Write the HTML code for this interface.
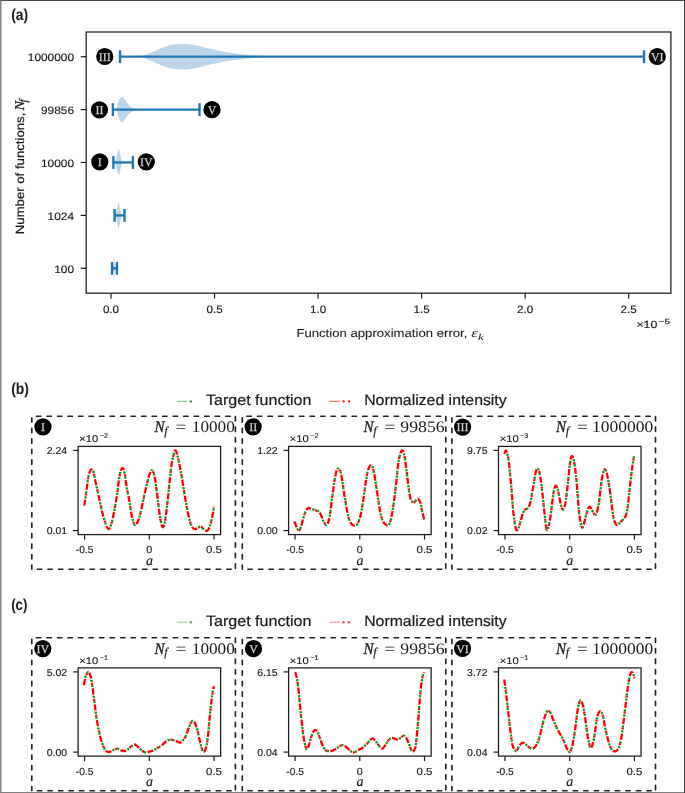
<!DOCTYPE html>
<html><head><meta charset="utf-8"><style>
html,body{margin:0;padding:0;background:#fff;}
svg{display:block;font-family:"Liberation Sans", sans-serif;will-change:transform;text-rendering:geometricPrecision;}
</style></head><body>
<svg width="685" height="793" viewBox="0 0 685 793">
<rect width="685" height="793" fill="#fff"/>
<rect x="0" y="0" width="685" height="1" fill="#4a4a4a"/>
<rect x="0" y="0" width="1" height="793" fill="#808080"/>
<rect x="1" y="1" width="1" height="791" fill="#c4c4c4"/>
<rect x="684" y="0" width="1" height="793" fill="#3c3c3c"/>
<rect x="0" y="792" width="684" height="1" fill="#808080"/>
<text x="11.20" y="19.80" font-size="16" textLength="17.00" lengthAdjust="spacingAndGlyphs" font-weight="bold" fill="#1a1a1a">(a)</text>
<text x="11.20" y="394.00" font-size="16" textLength="17.80" lengthAdjust="spacingAndGlyphs" font-weight="bold" fill="#1a1a1a">(b)</text>
<text x="11.20" y="610.20" font-size="16" textLength="16.20" lengthAdjust="spacingAndGlyphs" font-weight="bold" fill="#1a1a1a">(c)</text>
<polygon points="141.20,56.40 141.49,56.29 141.82,56.17 142.21,56.03 142.64,55.87 143.11,55.70 143.61,55.52 144.14,55.33 144.69,55.13 145.26,54.92 145.85,54.70 146.45,54.48 147.06,54.25 147.66,54.02 148.26,53.79 148.86,53.56 149.44,53.33 150.00,53.10 150.47,52.90 150.95,52.70 151.43,52.49 151.92,52.28 152.42,52.06 152.91,51.84 153.41,51.61 153.91,51.38 154.42,51.15 154.93,50.92 155.43,50.69 155.94,50.46 156.45,50.22 156.96,50.00 157.47,49.77 157.98,49.55 158.49,49.33 158.99,49.11 159.50,48.90 160.00,48.70 160.50,48.50 161.00,48.30 161.50,48.09 162.00,47.89 162.50,47.69 163.00,47.48 163.50,47.28 164.00,47.08 164.50,46.89 165.00,46.69 165.50,46.51 166.00,46.32 166.50,46.14 167.00,45.97 167.50,45.81 168.00,45.65 168.50,45.50 169.00,45.36 169.50,45.22 170.00,45.10 170.50,44.99 171.00,44.88 171.50,44.79 172.00,44.70 172.50,44.62 173.00,44.54 173.50,44.47 174.00,44.41 174.50,44.36 175.00,44.31 175.50,44.26 176.00,44.22 176.50,44.18 177.00,44.15 177.50,44.12 178.00,44.09 178.50,44.07 179.00,44.04 179.50,44.02 180.00,44.00 180.50,43.98 181.00,43.97 181.50,43.95 182.00,43.95 182.50,43.94 183.00,43.94 183.50,43.94 184.00,43.95 184.50,43.96 185.00,43.97 185.50,43.98 186.00,44.00 186.50,44.03 187.00,44.06 187.50,44.09 188.00,44.12 188.50,44.16 189.00,44.20 189.50,44.25 190.00,44.30 190.51,44.36 191.02,44.42 191.55,44.49 192.08,44.57 192.62,44.65 193.16,44.74 193.70,44.83 194.24,44.93 194.78,45.02 195.31,45.12 195.84,45.23 196.36,45.33 196.87,45.43 197.37,45.53 197.85,45.64 198.32,45.74 198.77,45.83 199.20,45.93 199.61,46.01 200.00,46.10 200.68,46.26 201.24,46.41 201.71,46.55 202.12,46.68 202.50,46.82 202.88,46.96 203.29,47.10 203.76,47.25 204.32,47.42 205.00,47.60 205.39,47.70 205.80,47.80 206.23,47.90 206.68,48.01 207.15,48.12 207.63,48.24 208.13,48.35 208.64,48.47 209.16,48.59 209.69,48.71 210.22,48.83 210.76,48.96 211.30,49.08 211.84,49.20 212.38,49.32 212.92,49.44 213.45,49.56 213.98,49.67 214.49,49.79 215.00,49.90 215.50,50.01 216.00,50.12 216.50,50.23 217.00,50.34 217.50,50.46 218.00,50.57 218.50,50.68 219.00,50.79 219.50,50.90 220.00,51.01 220.50,51.11 221.00,51.22 221.50,51.32 222.00,51.43 222.50,51.53 223.00,51.63 223.50,51.72 224.00,51.82 224.50,51.91 225.00,52.00 225.50,52.09 226.00,52.17 226.50,52.25 227.00,52.33 227.50,52.40 228.00,52.48 228.50,52.55 229.00,52.62 229.50,52.69 230.00,52.76 230.50,52.82 231.00,52.89 231.50,52.95 232.00,53.02 232.50,53.08 233.00,53.14 233.50,53.21 234.00,53.27 234.50,53.34 235.00,53.40 235.50,53.46 236.00,53.53 236.50,53.59 237.00,53.66 237.50,53.72 238.00,53.78 238.50,53.85 239.00,53.91 239.50,53.97 240.00,54.03 240.50,54.09 241.00,54.15 241.50,54.21 242.00,54.27 242.50,54.33 243.00,54.38 243.50,54.44 244.00,54.49 244.50,54.55 245.00,54.60 245.50,54.65 246.00,54.70 246.50,54.75 247.00,54.80 247.50,54.85 248.00,54.90 248.50,54.95 249.00,54.99 249.50,55.04 250.00,55.08 250.50,55.13 251.00,55.17 251.50,55.21 252.00,55.25 252.50,55.30 253.00,55.34 253.50,55.38 254.00,55.42 254.50,55.46 255.00,55.50 255.50,55.54 256.01,55.58 256.53,55.62 257.05,55.66 257.57,55.70 258.09,55.73 258.62,55.77 259.14,55.81 259.67,55.85 260.19,55.88 260.70,55.92 261.22,55.95 261.72,55.99 262.22,56.02 262.71,56.05 263.19,56.08 263.66,56.11 264.12,56.14 264.57,56.17 265.00,56.20 265.54,56.24 265.97,56.28 266.32,56.31 266.61,56.34 266.86,56.38 267.11,56.41 267.38,56.44 267.69,56.47 268.07,56.49 268.56,56.52 269.17,56.54 269.92,56.56 270.86,56.58 272.00,56.60 272.32,56.60 272.67,56.61 273.03,56.61 273.42,56.62 273.82,56.62 274.25,56.62 274.69,56.63 275.14,56.63 275.61,56.63 276.10,56.64 276.60,56.64 277.12,56.64 277.64,56.65 278.18,56.65 278.73,56.65 279.29,56.65 279.85,56.66 280.43,56.66 281.01,56.66 281.60,56.66 282.19,56.66 282.79,56.67 283.39,56.67 284.00,56.67 284.61,56.67 285.22,56.67 285.83,56.67 286.44,56.68 287.05,56.68 287.65,56.68 288.26,56.68 288.86,56.68 289.45,56.68 290.04,56.68 290.63,56.68 291.21,56.68 291.77,56.68 292.34,56.69 292.89,56.69 293.43,56.69 293.96,56.69 294.48,56.69 294.98,56.69 295.47,56.69 295.95,56.69 296.41,56.69 296.86,56.69 297.29,56.69 297.70,56.69 298.09,56.70 298.46,56.70 298.81,56.70 299.14,56.70 299.45,56.70 299.74,56.70 300.00,56.70 300.00,56.70 299.74,56.70 299.45,56.70 299.14,56.70 298.81,56.70 298.46,56.70 298.09,56.70 297.70,56.71 297.29,56.71 296.86,56.71 296.41,56.71 295.95,56.71 295.47,56.71 294.98,56.71 294.48,56.71 293.96,56.71 293.43,56.71 292.89,56.71 292.34,56.71 291.77,56.72 291.21,56.72 290.63,56.72 290.04,56.72 289.45,56.72 288.86,56.72 288.26,56.72 287.65,56.72 287.05,56.72 286.44,56.73 285.83,56.73 285.22,56.73 284.61,56.73 284.00,56.73 283.39,56.73 282.79,56.73 282.19,56.74 281.60,56.74 281.01,56.74 280.43,56.74 279.85,56.74 279.29,56.75 278.73,56.75 278.18,56.75 277.64,56.75 277.12,56.76 276.60,56.76 276.10,56.76 275.61,56.77 275.14,56.77 274.69,56.77 274.25,56.78 273.82,56.78 273.42,56.78 273.03,56.79 272.67,56.79 272.32,56.80 272.00,56.80 270.86,56.82 269.92,56.84 269.17,56.86 268.56,56.88 268.07,56.91 267.69,56.93 267.38,56.96 267.11,56.99 266.86,57.02 266.61,57.06 266.32,57.09 265.97,57.12 265.54,57.16 265.00,57.20 264.57,57.23 264.12,57.26 263.66,57.29 263.19,57.32 262.71,57.35 262.22,57.38 261.72,57.41 261.22,57.45 260.70,57.48 260.19,57.52 259.67,57.55 259.14,57.59 258.62,57.63 258.09,57.67 257.57,57.70 257.05,57.74 256.53,57.78 256.01,57.82 255.50,57.86 255.00,57.90 254.50,57.94 254.00,57.98 253.50,58.02 253.00,58.06 252.50,58.10 252.00,58.15 251.50,58.19 251.00,58.23 250.50,58.27 250.00,58.32 249.50,58.36 249.00,58.41 248.50,58.45 248.00,58.50 247.50,58.55 247.00,58.60 246.50,58.65 246.00,58.70 245.50,58.75 245.00,58.80 244.50,58.85 244.00,58.91 243.50,58.96 243.00,59.02 242.50,59.07 242.00,59.13 241.50,59.19 241.00,59.25 240.50,59.31 240.00,59.37 239.50,59.43 239.00,59.49 238.50,59.55 238.00,59.62 237.50,59.68 237.00,59.74 236.50,59.81 236.00,59.87 235.50,59.94 235.00,60.00 234.50,60.06 234.00,60.13 233.50,60.19 233.00,60.26 232.50,60.32 232.00,60.38 231.50,60.45 231.00,60.51 230.50,60.58 230.00,60.64 229.50,60.71 229.00,60.78 228.50,60.85 228.00,60.92 227.50,61.00 227.00,61.07 226.50,61.15 226.00,61.23 225.50,61.31 225.00,61.40 224.50,61.49 224.00,61.58 223.50,61.68 223.00,61.77 222.50,61.87 222.00,61.97 221.50,62.08 221.00,62.18 220.50,62.29 220.00,62.39 219.50,62.50 219.00,62.61 218.50,62.72 218.00,62.83 217.50,62.94 217.00,63.06 216.50,63.17 216.00,63.28 215.50,63.39 215.00,63.50 214.49,63.61 213.98,63.73 213.45,63.84 212.92,63.96 212.38,64.08 211.84,64.20 211.30,64.32 210.76,64.44 210.22,64.57 209.69,64.69 209.16,64.81 208.64,64.93 208.13,65.05 207.63,65.16 207.15,65.28 206.68,65.39 206.23,65.50 205.80,65.60 205.39,65.70 205.00,65.80 204.32,65.98 203.76,66.15 203.29,66.30 202.88,66.44 202.50,66.58 202.12,66.72 201.71,66.85 201.24,66.99 200.68,67.14 200.00,67.30 199.61,67.39 199.20,67.47 198.77,67.57 198.32,67.66 197.85,67.76 197.37,67.87 196.87,67.97 196.36,68.07 195.84,68.17 195.31,68.28 194.78,68.38 194.24,68.47 193.70,68.57 193.16,68.66 192.62,68.75 192.08,68.83 191.55,68.91 191.02,68.98 190.51,69.04 190.00,69.10 189.50,69.15 189.00,69.20 188.50,69.24 188.00,69.28 187.50,69.31 187.00,69.34 186.50,69.37 186.00,69.40 185.50,69.42 185.00,69.43 184.50,69.44 184.00,69.45 183.50,69.46 183.00,69.46 182.50,69.46 182.00,69.45 181.50,69.45 181.00,69.43 180.50,69.42 180.00,69.40 179.50,69.38 179.00,69.36 178.50,69.33 178.00,69.31 177.50,69.28 177.00,69.25 176.50,69.22 176.00,69.18 175.50,69.14 175.00,69.09 174.50,69.04 174.00,68.99 173.50,68.93 173.00,68.86 172.50,68.78 172.00,68.70 171.50,68.61 171.00,68.52 170.50,68.41 170.00,68.30 169.50,68.18 169.00,68.04 168.50,67.90 168.00,67.75 167.50,67.59 167.00,67.43 166.50,67.26 166.00,67.08 165.50,66.89 165.00,66.71 164.50,66.51 164.00,66.32 163.50,66.12 163.00,65.92 162.50,65.71 162.00,65.51 161.50,65.31 161.00,65.10 160.50,64.90 160.00,64.70 159.50,64.50 158.99,64.29 158.49,64.07 157.98,63.85 157.47,63.63 156.96,63.40 156.45,63.18 155.94,62.94 155.43,62.71 154.93,62.48 154.42,62.25 153.91,62.02 153.41,61.79 152.91,61.56 152.42,61.34 151.92,61.12 151.43,60.91 150.95,60.70 150.47,60.50 150.00,60.30 149.44,60.07 148.86,59.84 148.26,59.61 147.66,59.38 147.06,59.15 146.45,58.92 145.85,58.70 145.26,58.48 144.69,58.27 144.14,58.07 143.61,57.88 143.11,57.70 142.64,57.53 142.21,57.37 141.82,57.23 141.49,57.11 141.20,57.00" fill="#bcd5e9"/>
<polygon points="116.90,106.60 117.28,105.30 117.80,103.60 118.36,101.97 119.00,100.40 119.48,99.43 119.99,98.53 120.50,97.80 121.00,97.26 121.50,96.89 122.00,96.75 122.48,96.87 122.96,97.23 123.50,97.80 123.96,98.42 124.47,99.19 124.99,100.02 125.50,100.80 126.00,101.53 126.50,102.26 127.00,102.95 127.50,103.60 128.00,104.19 128.50,104.73 129.00,105.23 129.50,105.70 130.00,106.13 130.50,106.51 131.00,106.87 131.50,107.20 132.00,107.51 132.50,107.79 133.00,108.06 133.50,108.30 134.00,108.53 134.50,108.74 135.00,108.94 135.50,109.10 136.05,109.24 136.62,109.35 137.14,109.44 137.50,109.50 137.50,109.70 137.14,109.76 136.62,109.85 136.05,109.96 135.50,110.10 135.00,110.26 134.50,110.46 134.00,110.67 133.50,110.90 133.00,111.14 132.50,111.41 132.00,111.69 131.50,112.00 131.00,112.33 130.50,112.69 130.00,113.07 129.50,113.50 129.00,113.97 128.50,114.47 128.00,115.01 127.50,115.60 127.00,116.25 126.50,116.94 126.00,117.67 125.50,118.40 124.99,119.18 124.47,120.01 123.96,120.78 123.50,121.40 122.96,121.97 122.48,122.33 122.00,122.45 121.50,122.31 121.00,121.94 120.50,121.40 119.99,120.67 119.48,119.77 119.00,118.80 118.36,117.22 117.80,115.60 117.28,113.90 116.90,112.60" fill="#bcd5e9"/>
<polygon points="115.00,162.00 115.39,160.91 115.94,159.31 116.50,157.50 117.03,155.29 117.56,152.86 118.00,151.00 118.39,149.83 118.70,149.65 119.06,149.83 119.50,151.00 120.11,154.05 120.80,157.50 121.34,159.31 121.90,160.91 122.30,162.00 122.30,163.00 121.90,164.09 121.34,165.69 120.80,167.50 120.11,170.95 119.50,174.00 119.06,175.17 118.70,175.35 118.39,175.17 118.00,174.00 117.56,172.14 117.03,169.71 116.50,167.50 115.94,165.69 115.39,164.09 115.00,163.00" fill="#bcd5e9"/>
<polygon points="115.60,214.90 116.24,212.21 117.00,208.90 117.56,206.11 118.00,203.90 118.22,202.86 118.40,202.60 118.65,202.86 119.00,203.90 119.56,206.11 120.20,208.90 120.88,212.21 121.40,214.90 121.40,215.90 120.88,218.59 120.20,221.90 119.56,224.69 119.00,226.90 118.65,227.94 118.40,228.20 118.22,227.94 118.00,226.90 117.56,224.69 117.00,221.90 116.24,218.59 115.60,215.90" fill="#bcd5e9"/>
<polygon points="112.80,268.00 113.12,265.57 113.50,262.30 113.76,258.18 114.00,255.60 114.24,258.18 114.50,262.30 114.88,265.57 115.20,268.00 115.20,268.60 114.88,271.03 114.50,274.30 114.24,278.43 114.00,281.00 113.76,278.43 113.50,274.30 113.12,271.03 112.80,268.60" fill="#bcd5e9"/>
<line x1="120.00" y1="56.70" x2="644.00" y2="56.70" stroke="#1f77b4" stroke-width="2.3"/>
<line x1="120.00" y1="50.30" x2="120.00" y2="63.10" stroke="#1f77b4" stroke-width="2.4"/>
<line x1="644.00" y1="50.30" x2="644.00" y2="63.10" stroke="#1f77b4" stroke-width="2.4"/>
<line x1="112.90" y1="109.60" x2="199.50" y2="109.60" stroke="#1f77b4" stroke-width="2.3"/>
<line x1="112.90" y1="103.20" x2="112.90" y2="116.00" stroke="#1f77b4" stroke-width="2.4"/>
<line x1="199.50" y1="103.20" x2="199.50" y2="116.00" stroke="#1f77b4" stroke-width="2.4"/>
<line x1="113.40" y1="162.50" x2="132.90" y2="162.50" stroke="#1f77b4" stroke-width="2.3"/>
<line x1="113.40" y1="156.10" x2="113.40" y2="168.90" stroke="#1f77b4" stroke-width="2.4"/>
<line x1="132.90" y1="156.10" x2="132.90" y2="168.90" stroke="#1f77b4" stroke-width="2.4"/>
<line x1="114.60" y1="215.40" x2="124.50" y2="215.40" stroke="#1f77b4" stroke-width="2.3"/>
<line x1="114.60" y1="209.00" x2="114.60" y2="221.80" stroke="#1f77b4" stroke-width="2.4"/>
<line x1="124.50" y1="209.00" x2="124.50" y2="221.80" stroke="#1f77b4" stroke-width="2.4"/>
<line x1="112.00" y1="268.30" x2="116.90" y2="268.30" stroke="#1f77b4" stroke-width="2.3"/>
<line x1="112.00" y1="261.90" x2="112.00" y2="274.70" stroke="#1f77b4" stroke-width="2.4"/>
<line x1="116.90" y1="261.90" x2="116.90" y2="274.70" stroke="#1f77b4" stroke-width="2.4"/>
<rect x="86.20" y="32.00" width="584.70" height="261.20" fill="none" stroke="#1a1a1a" stroke-width="1.25"/>
<line x1="80.70" y1="56.70" x2="86.20" y2="56.70" stroke="#1a1a1a" stroke-width="1.2"/>
<line x1="80.70" y1="109.60" x2="86.20" y2="109.60" stroke="#1a1a1a" stroke-width="1.2"/>
<line x1="80.70" y1="162.50" x2="86.20" y2="162.50" stroke="#1a1a1a" stroke-width="1.2"/>
<line x1="80.70" y1="215.40" x2="86.20" y2="215.40" stroke="#1a1a1a" stroke-width="1.2"/>
<line x1="80.70" y1="268.30" x2="86.20" y2="268.30" stroke="#1a1a1a" stroke-width="1.2"/>
<line x1="111.00" y1="293.20" x2="111.00" y2="298.70" stroke="#1a1a1a" stroke-width="1.2"/>
<line x1="214.54" y1="293.20" x2="214.54" y2="298.70" stroke="#1a1a1a" stroke-width="1.2"/>
<line x1="318.08" y1="293.20" x2="318.08" y2="298.70" stroke="#1a1a1a" stroke-width="1.2"/>
<line x1="421.62" y1="293.20" x2="421.62" y2="298.70" stroke="#1a1a1a" stroke-width="1.2"/>
<line x1="525.16" y1="293.20" x2="525.16" y2="298.70" stroke="#1a1a1a" stroke-width="1.2"/>
<line x1="628.70" y1="293.20" x2="628.70" y2="298.70" stroke="#1a1a1a" stroke-width="1.2"/>
<text x="74.00" y="61.10" font-size="10.7" text-anchor="end" textLength="46.20" lengthAdjust="spacingAndGlyphs" fill="#1a1a1a" stroke="#1a1a1a" stroke-width="0.15">1000000</text>
<text x="74.00" y="114.00" font-size="10.7" text-anchor="end" textLength="33.00" lengthAdjust="spacingAndGlyphs" fill="#1a1a1a" stroke="#1a1a1a" stroke-width="0.15">99856</text>
<text x="74.00" y="166.90" font-size="10.7" text-anchor="end" textLength="33.00" lengthAdjust="spacingAndGlyphs" fill="#1a1a1a" stroke="#1a1a1a" stroke-width="0.15">10000</text>
<text x="74.00" y="219.80" font-size="10.7" text-anchor="end" textLength="26.40" lengthAdjust="spacingAndGlyphs" fill="#1a1a1a" stroke="#1a1a1a" stroke-width="0.15">1024</text>
<text x="74.00" y="272.70" font-size="10.7" text-anchor="end" textLength="19.80" lengthAdjust="spacingAndGlyphs" fill="#1a1a1a" stroke="#1a1a1a" stroke-width="0.15">100</text>
<text x="111.00" y="312.80" font-size="10.7" text-anchor="middle" textLength="16.20" lengthAdjust="spacingAndGlyphs" fill="#1a1a1a" stroke="#1a1a1a" stroke-width="0.15">0.0</text>
<text x="214.54" y="312.80" font-size="10.7" text-anchor="middle" textLength="16.20" lengthAdjust="spacingAndGlyphs" fill="#1a1a1a" stroke="#1a1a1a" stroke-width="0.15">0.5</text>
<text x="318.08" y="312.80" font-size="10.7" text-anchor="middle" textLength="16.20" lengthAdjust="spacingAndGlyphs" fill="#1a1a1a" stroke="#1a1a1a" stroke-width="0.15">1.0</text>
<text x="421.62" y="312.80" font-size="10.7" text-anchor="middle" textLength="16.20" lengthAdjust="spacingAndGlyphs" fill="#1a1a1a" stroke="#1a1a1a" stroke-width="0.15">1.5</text>
<text x="525.16" y="312.80" font-size="10.7" text-anchor="middle" textLength="16.20" lengthAdjust="spacingAndGlyphs" fill="#1a1a1a" stroke="#1a1a1a" stroke-width="0.15">2.0</text>
<text x="628.70" y="312.80" font-size="10.7" text-anchor="middle" textLength="16.20" lengthAdjust="spacingAndGlyphs" fill="#1a1a1a" stroke="#1a1a1a" stroke-width="0.15">2.5</text>
<text x="636.40" y="328.00" font-size="10.4" textLength="21.00" lengthAdjust="spacingAndGlyphs" fill="#1a1a1a" stroke="#1a1a1a" stroke-width="0.15">×10</text>
<text x="658.60" y="324.20" font-size="7.4" textLength="11.50" lengthAdjust="spacingAndGlyphs" fill="#1a1a1a" stroke="#1a1a1a" stroke-width="0.15">−5</text>
<text x="296.40" y="337.20" font-size="11.6" textLength="171.00" lengthAdjust="spacingAndGlyphs" fill="#1a1a1a" stroke="#1a1a1a" stroke-width="0.08">Function approximation error, </text>
<text x="471.20" y="337.20" font-size="12.5" font-family='"Liberation Serif", serif' textLength="6.60" lengthAdjust="spacingAndGlyphs" font-style="italic" fill="#1a1a1a">ε</text>
<text x="478.00" y="340.00" font-size="9.0" font-family='"Liberation Serif", serif' textLength="5.80" lengthAdjust="spacingAndGlyphs" font-style="italic" fill="#1a1a1a">k</text>
<g transform="translate(24.4,234.2) rotate(-90)"><text x="0" y="0" font-size="12" fill="#1a1a1a" stroke="#1a1a1a" stroke-width="0.2" textLength="121.5" lengthAdjust="spacingAndGlyphs">Number of functions,</text><text x="123.6" y="0" font-size="13.5" font-family='"Liberation Serif", serif' font-style="italic" fill="#1a1a1a" stroke="#1a1a1a" stroke-width="0.3" textLength="9.6" lengthAdjust="spacingAndGlyphs">N</text><text x="131.6" y="3.0" font-size="11.5" font-family='"Liberation Serif", serif' font-style="italic" fill="#1a1a1a" stroke="#1a1a1a" stroke-width="0.2">f</text></g>
<circle cx="104.75" cy="56.50" r="8.6" fill="#000"/>
<text x="104.75" y="60.75" font-size="12" font-family='"Liberation Serif", serif' text-anchor="middle" fill="#cfcfcf" stroke="#cfcfcf" stroke-width="0.25">III</text>
<circle cx="657.25" cy="56.50" r="8.6" fill="#000"/>
<text x="657.25" y="60.75" font-size="12" font-family='"Liberation Serif", serif' text-anchor="middle" fill="#cfcfcf" stroke="#cfcfcf" stroke-width="0.25">VI</text>
<circle cx="99.45" cy="109.80" r="8.6" fill="#000"/>
<text x="99.45" y="114.05" font-size="12" font-family='"Liberation Serif", serif' text-anchor="middle" fill="#cfcfcf" stroke="#cfcfcf" stroke-width="0.25">II</text>
<circle cx="212.00" cy="109.70" r="8.6" fill="#000"/>
<text x="212.00" y="113.95" font-size="12" font-family='"Liberation Serif", serif' text-anchor="middle" fill="#cfcfcf" stroke="#cfcfcf" stroke-width="0.25">V</text>
<circle cx="99.80" cy="161.90" r="8.6" fill="#000"/>
<text x="99.80" y="166.15" font-size="12" font-family='"Liberation Serif", serif' text-anchor="middle" fill="#cfcfcf" stroke="#cfcfcf" stroke-width="0.25">I</text>
<circle cx="146.30" cy="161.90" r="8.6" fill="#000"/>
<text x="146.30" y="166.15" font-size="12" font-family='"Liberation Serif", serif' text-anchor="middle" fill="#cfcfcf" stroke="#cfcfcf" stroke-width="0.25">IV</text>
<line x1="176.80" y1="401.40" x2="187.10" y2="401.40" stroke="#86c486" stroke-width="1.1"/>
<circle cx="190.8" cy="401.40" r="1.25" fill="#3a9a3a"/>
<text x="206.00" y="404.80" font-size="15" textLength="105.40" lengthAdjust="spacingAndGlyphs" fill="#1a1a1a" stroke="#1a1a1a" stroke-width="0.2">Target function</text>
<line x1="329.50" y1="401.40" x2="339.70" y2="401.40" stroke="#ff6060" stroke-width="1.1"/>
<circle cx="343.5" cy="401.40" r="1.2" fill="#ff1a1a"/>
<circle cx="349.0" cy="401.40" r="1.2" fill="#ff1a1a"/>
<text x="364.20" y="404.80" font-size="15" textLength="142.50" lengthAdjust="spacingAndGlyphs" fill="#1a1a1a" stroke="#1a1a1a" stroke-width="0.2">Normalized intensity</text>
<line x1="176.80" y1="622.20" x2="187.10" y2="622.20" stroke="#a6d6a6" stroke-width="1.1"/>
<circle cx="190.8" cy="622.20" r="1.25" fill="#5aae5a"/>
<text x="206.00" y="625.60" font-size="15" textLength="105.40" lengthAdjust="spacingAndGlyphs" fill="#1a1a1a" stroke="#1a1a1a" stroke-width="0.2">Target function</text>
<line x1="329.50" y1="622.20" x2="339.70" y2="622.20" stroke="#ff8a8a" stroke-width="1.1"/>
<circle cx="343.5" cy="622.20" r="1.2" fill="#ff4545"/>
<circle cx="349.0" cy="622.20" r="1.2" fill="#ff4545"/>
<text x="364.20" y="625.60" font-size="15" textLength="142.50" lengthAdjust="spacingAndGlyphs" fill="#1a1a1a" stroke="#1a1a1a" stroke-width="0.2">Normalized intensity</text>
<line x1="36.40" y1="416.20" x2="235.40" y2="416.20" stroke="#222" stroke-width="1.65" stroke-dasharray="4.42 6.1" stroke-linecap="round"/>
<line x1="235.40" y1="416.60" x2="235.40" y2="569.20" stroke="#222" stroke-width="1.65" stroke-dasharray="4.42 6.1" stroke-linecap="round"/>
<line x1="37.40" y1="569.20" x2="235.40" y2="569.20" stroke="#222" stroke-width="1.65" stroke-dasharray="4.42 6.1" stroke-linecap="round"/>
<line x1="31.80" y1="417.80" x2="31.80" y2="569.20" stroke="#222" stroke-width="1.65" stroke-dasharray="4.42 6.1" stroke-linecap="round"/>
<circle cx="42.96" cy="426.90" r="8.6" fill="#000"/>
<text x="42.96" y="431.15" font-size="12" font-family='"Liberation Serif", serif' text-anchor="middle" fill="#cfcfcf" stroke="#cfcfcf" stroke-width="0.25">I</text>
<text x='154.40' y='432.10' font-size='16' font-family='"Liberation Serif", serif' font-style='italic' fill='#1a1a1a' stroke='#1a1a1a' stroke-width='0.3' textLength='10.0' lengthAdjust='spacingAndGlyphs'>N</text>
<text x='164.20' y='434.50' font-size='12' font-family='"Liberation Serif", serif' font-style='italic' fill='#1a1a1a' stroke='#1a1a1a' stroke-width='0.2'>f</text>
<text x='175.60' y='432.10' font-size='16' font-family='"Liberation Serif", serif' fill='#1a1a1a' textLength='10.80' lengthAdjust='spacingAndGlyphs'>=</text>
<text x="234.80" y="432.10" font-size="16" font-family='"Liberation Serif", serif' text-anchor="end" textLength="43.00" lengthAdjust="spacingAndGlyphs" fill="#1a1a1a">10000</text>
<path d="M84.20,505.60 C84.50,503.80 85.33,499.43 86.00,494.80 C86.67,490.17 87.42,481.93 88.20,477.80 C88.98,473.67 89.85,471.05 90.70,470.00 C91.55,468.95 92.48,469.45 93.30,471.50 C94.12,473.55 94.75,478.42 95.60,482.30 C96.45,486.18 97.45,490.45 98.40,494.80 C99.35,499.15 100.25,504.05 101.30,508.40 C102.35,512.75 103.52,517.45 104.70,520.90 C105.88,524.35 107.27,528.72 108.40,529.10 C109.53,529.48 110.52,526.27 111.50,523.20 C112.48,520.13 113.35,515.62 114.30,510.70 C115.25,505.78 116.35,499.38 117.20,493.70 C118.05,488.02 118.58,480.87 119.40,476.60 C120.22,472.33 121.23,468.67 122.10,468.10 C122.97,467.53 123.82,469.88 124.60,473.20 C125.38,476.52 125.95,483.07 126.80,488.00 C127.65,492.93 128.85,498.07 129.70,502.80 C130.55,507.53 131.05,512.72 131.90,516.40 C132.75,520.08 133.85,523.97 134.80,524.90 C135.75,525.83 136.65,523.98 137.60,522.00 C138.55,520.02 139.45,517.15 140.50,513.00 C141.55,508.85 142.77,502.22 143.90,497.10 C145.03,491.98 146.37,486.08 147.30,482.30 C148.23,478.52 148.78,476.43 149.50,474.40 C150.22,472.37 150.93,470.38 151.60,470.10 C152.27,469.82 152.90,471.05 153.50,472.70 C154.10,474.35 154.63,476.70 155.20,480.00 C155.77,483.30 156.33,488.13 156.90,492.50 C157.47,496.87 158.03,501.85 158.60,506.20 C159.17,510.55 159.63,515.12 160.30,518.60 C160.97,522.08 161.83,526.53 162.60,527.10 C163.37,527.67 164.23,524.92 164.90,522.00 C165.57,519.08 166.03,514.13 166.60,509.60 C167.17,505.07 167.73,500.10 168.30,494.80 C168.87,489.50 169.35,483.47 170.00,477.80 C170.65,472.13 171.35,465.35 172.20,460.80 C173.05,456.25 174.25,451.45 175.10,450.50 C175.95,449.55 176.55,452.63 177.30,455.10 C178.05,457.57 178.83,461.52 179.60,465.30 C180.37,469.08 181.15,473.45 181.90,477.80 C182.65,482.15 183.35,486.87 184.10,491.40 C184.85,495.93 185.63,500.83 186.40,505.00 C187.17,509.17 187.95,513.18 188.70,516.40 C189.45,519.62 190.05,522.22 190.90,524.30 C191.75,526.38 192.75,528.23 193.80,528.90 C194.85,529.57 196.07,528.68 197.20,528.30 C198.33,527.92 199.47,526.42 200.60,526.60 C201.73,526.78 202.87,528.73 204.00,529.40 C205.13,530.07 206.37,531.27 207.40,530.60 C208.43,529.93 209.35,527.97 210.20,525.40 C211.05,522.83 211.87,518.32 212.50,515.20 C213.13,512.08 213.75,508.12 214.00,506.70" fill="none" stroke="#158f15" stroke-width="2.3" stroke-dasharray="2.2 2.8 2.2 8.8" stroke-dashoffset="-7.4"/>
<path d="M84.20,505.60 C84.50,503.80 85.33,499.43 86.00,494.80 C86.67,490.17 87.42,481.93 88.20,477.80 C88.98,473.67 89.85,471.05 90.70,470.00 C91.55,468.95 92.48,469.45 93.30,471.50 C94.12,473.55 94.75,478.42 95.60,482.30 C96.45,486.18 97.45,490.45 98.40,494.80 C99.35,499.15 100.25,504.05 101.30,508.40 C102.35,512.75 103.52,517.45 104.70,520.90 C105.88,524.35 107.27,528.72 108.40,529.10 C109.53,529.48 110.52,526.27 111.50,523.20 C112.48,520.13 113.35,515.62 114.30,510.70 C115.25,505.78 116.35,499.38 117.20,493.70 C118.05,488.02 118.58,480.87 119.40,476.60 C120.22,472.33 121.23,468.67 122.10,468.10 C122.97,467.53 123.82,469.88 124.60,473.20 C125.38,476.52 125.95,483.07 126.80,488.00 C127.65,492.93 128.85,498.07 129.70,502.80 C130.55,507.53 131.05,512.72 131.90,516.40 C132.75,520.08 133.85,523.97 134.80,524.90 C135.75,525.83 136.65,523.98 137.60,522.00 C138.55,520.02 139.45,517.15 140.50,513.00 C141.55,508.85 142.77,502.22 143.90,497.10 C145.03,491.98 146.37,486.08 147.30,482.30 C148.23,478.52 148.78,476.43 149.50,474.40 C150.22,472.37 150.93,470.38 151.60,470.10 C152.27,469.82 152.90,471.05 153.50,472.70 C154.10,474.35 154.63,476.70 155.20,480.00 C155.77,483.30 156.33,488.13 156.90,492.50 C157.47,496.87 158.03,501.85 158.60,506.20 C159.17,510.55 159.63,515.12 160.30,518.60 C160.97,522.08 161.83,526.53 162.60,527.10 C163.37,527.67 164.23,524.92 164.90,522.00 C165.57,519.08 166.03,514.13 166.60,509.60 C167.17,505.07 167.73,500.10 168.30,494.80 C168.87,489.50 169.35,483.47 170.00,477.80 C170.65,472.13 171.35,465.35 172.20,460.80 C173.05,456.25 174.25,451.45 175.10,450.50 C175.95,449.55 176.55,452.63 177.30,455.10 C178.05,457.57 178.83,461.52 179.60,465.30 C180.37,469.08 181.15,473.45 181.90,477.80 C182.65,482.15 183.35,486.87 184.10,491.40 C184.85,495.93 185.63,500.83 186.40,505.00 C187.17,509.17 187.95,513.18 188.70,516.40 C189.45,519.62 190.05,522.22 190.90,524.30 C191.75,526.38 192.75,528.23 193.80,528.90 C194.85,529.57 196.07,528.68 197.20,528.30 C198.33,527.92 199.47,526.42 200.60,526.60 C201.73,526.78 202.87,528.73 204.00,529.40 C205.13,530.07 206.37,531.27 207.40,530.60 C208.43,529.93 209.35,527.97 210.20,525.40 C211.05,522.83 211.87,518.32 212.50,515.20 C213.13,512.08 213.75,508.12 214.00,506.70" fill="none" stroke="#ff0000" stroke-width="2.3" stroke-dasharray="6.2 4.2 2.0 3.6"/>
<rect x="78.10" y="446.40" width="142.55" height="88.20" fill="none" stroke="#1a1a1a" stroke-width="1.25"/>
<line x1="73.10" y1="450.40" x2="78.10" y2="450.40" stroke="#1a1a1a" stroke-width="1.2"/>
<line x1="73.10" y1="530.60" x2="78.10" y2="530.60" stroke="#1a1a1a" stroke-width="1.2"/>
<line x1="84.57" y1="534.60" x2="84.57" y2="539.60" stroke="#1a1a1a" stroke-width="1.2"/>
<line x1="149.30" y1="534.60" x2="149.30" y2="539.60" stroke="#1a1a1a" stroke-width="1.2"/>
<line x1="214.03" y1="534.60" x2="214.03" y2="539.60" stroke="#1a1a1a" stroke-width="1.2"/>
<text x="67.10" y="454.10" font-size="10.0" text-anchor="end" textLength="20.40" lengthAdjust="spacingAndGlyphs" fill="#1a1a1a" stroke="#1a1a1a" stroke-width="0.15">2.24</text>
<text x="67.10" y="534.30" font-size="10.0" text-anchor="end" textLength="20.40" lengthAdjust="spacingAndGlyphs" fill="#1a1a1a" stroke="#1a1a1a" stroke-width="0.15">0.01</text>
<text x="79.30" y="442.00" font-size="9.8" textLength="19.00" lengthAdjust="spacingAndGlyphs" fill="#1a1a1a" stroke="#1a1a1a" stroke-width="0.15">×10</text>
<text x="99.70" y="438.20" font-size="6.8" textLength="8.30" lengthAdjust="spacingAndGlyphs" fill="#1a1a1a" stroke="#1a1a1a" stroke-width="0.15">−2</text>
<text x="84.57" y="553.00" font-size="10.2" text-anchor="middle" textLength="17.60" lengthAdjust="spacingAndGlyphs" fill="#1a1a1a" stroke="#1a1a1a" stroke-width="0.15">-0.5</text>
<text x="149.30" y="553.00" font-size="10.2" text-anchor="middle" textLength="6.00" lengthAdjust="spacingAndGlyphs" fill="#1a1a1a" stroke="#1a1a1a" stroke-width="0.15">0</text>
<text x="214.03" y="553.00" font-size="10.2" text-anchor="middle" textLength="16.00" lengthAdjust="spacingAndGlyphs" fill="#1a1a1a" stroke="#1a1a1a" stroke-width="0.15">0.5</text>
<text x="149.40" y="564.80" font-size="14" font-family='"Liberation Serif", serif' text-anchor="middle" font-style="italic" fill="#1a1a1a" stroke="#1a1a1a" stroke-width="0.2">a</text>
<line x1="246.90" y1="416.20" x2="445.80" y2="416.20" stroke="#222" stroke-width="1.65" stroke-dasharray="4.42 6.1" stroke-linecap="round"/>
<line x1="445.80" y1="416.60" x2="445.80" y2="569.20" stroke="#222" stroke-width="1.65" stroke-dasharray="4.42 6.1" stroke-linecap="round"/>
<line x1="247.90" y1="569.20" x2="445.80" y2="569.20" stroke="#222" stroke-width="1.65" stroke-dasharray="4.42 6.1" stroke-linecap="round"/>
<line x1="242.30" y1="417.80" x2="242.30" y2="569.20" stroke="#222" stroke-width="1.65" stroke-dasharray="4.42 6.1" stroke-linecap="round"/>
<circle cx="253.15" cy="426.80" r="8.6" fill="#000"/>
<text x="253.15" y="431.05" font-size="12" font-family='"Liberation Serif", serif' text-anchor="middle" fill="#cfcfcf" stroke="#cfcfcf" stroke-width="0.25">II</text>
<text x='363.40' y='432.10' font-size='16' font-family='"Liberation Serif", serif' font-style='italic' fill='#1a1a1a' stroke='#1a1a1a' stroke-width='0.3' textLength='10.0' lengthAdjust='spacingAndGlyphs'>N</text>
<text x='373.20' y='434.50' font-size='12' font-family='"Liberation Serif", serif' font-style='italic' fill='#1a1a1a' stroke='#1a1a1a' stroke-width='0.2'>f</text>
<text x='384.60' y='432.10' font-size='16' font-family='"Liberation Serif", serif' fill='#1a1a1a' textLength='10.80' lengthAdjust='spacingAndGlyphs'>=</text>
<text x="444.60" y="432.10" font-size="16" font-family='"Liberation Serif", serif' text-anchor="end" textLength="44.30" lengthAdjust="spacingAndGlyphs" fill="#1a1a1a">99856</text>
<path d="M294.40,521.50 C294.73,522.35 295.70,525.08 296.40,526.60 C297.10,528.12 297.85,530.52 298.60,530.60 C299.35,530.68 300.13,529.10 300.90,527.10 C301.67,525.10 302.43,521.15 303.20,518.60 C303.97,516.05 304.65,513.58 305.50,511.80 C306.35,510.02 307.27,508.37 308.30,507.90 C309.33,507.43 310.38,508.57 311.70,509.00 C313.02,509.43 314.97,510.03 316.20,510.50 C317.43,510.97 318.25,510.92 319.10,511.80 C319.95,512.68 320.55,514.18 321.30,515.80 C322.05,517.42 322.73,519.93 323.60,521.50 C324.47,523.07 325.65,525.30 326.50,525.20 C327.35,525.10 328.05,523.13 328.70,520.90 C329.35,518.67 329.87,515.40 330.40,511.80 C330.93,508.20 331.42,503.08 331.90,499.30 C332.38,495.52 332.78,492.68 333.30,489.10 C333.82,485.52 334.43,480.92 335.00,477.80 C335.57,474.68 336.13,471.92 336.70,470.40 C337.27,468.88 337.75,468.42 338.40,468.70 C339.05,468.98 339.95,470.02 340.60,472.10 C341.25,474.18 341.73,477.80 342.30,481.20 C342.87,484.60 343.43,488.92 344.00,492.50 C344.57,496.08 345.12,499.28 345.70,502.70 C346.28,506.12 346.83,509.97 347.50,513.00 C348.17,516.03 348.85,518.92 349.70,520.90 C350.55,522.88 351.75,524.15 352.60,524.90 C353.45,525.65 353.95,525.60 354.80,525.40 C355.65,525.20 356.78,525.20 357.70,523.70 C358.62,522.20 359.50,519.52 360.30,516.40 C361.10,513.28 361.85,508.78 362.50,505.00 C363.15,501.22 363.63,497.67 364.20,493.70 C364.77,489.73 365.33,484.90 365.90,481.20 C366.47,477.50 366.93,474.05 367.60,471.50 C368.27,468.95 369.13,466.75 369.90,465.90 C370.67,465.05 371.53,465.37 372.20,466.40 C372.87,467.43 373.33,469.45 373.90,472.10 C374.47,474.75 375.03,478.70 375.60,482.30 C376.17,485.90 376.73,489.92 377.30,493.70 C377.87,497.48 378.43,501.60 379.00,505.00 C379.57,508.40 380.03,511.35 380.70,514.10 C381.37,516.85 381.97,519.62 383.00,521.50 C384.03,523.38 385.77,525.12 386.90,525.40 C388.03,525.68 388.95,525.08 389.80,523.20 C390.65,521.32 391.33,517.52 392.00,514.10 C392.67,510.68 393.22,506.87 393.80,502.70 C394.38,498.53 394.93,494.02 395.50,489.10 C396.07,484.18 396.63,478.12 397.20,473.20 C397.77,468.28 398.15,463.38 398.90,459.60 C399.65,455.82 400.85,451.43 401.70,450.50 C402.55,449.57 403.33,451.72 404.00,454.00 C404.67,456.28 405.13,460.23 405.70,464.20 C406.27,468.17 406.83,473.27 407.40,477.80 C407.97,482.33 408.53,487.82 409.10,491.40 C409.67,494.98 410.15,497.42 410.80,499.30 C411.45,501.18 412.25,502.42 413.00,502.70 C413.75,502.98 414.48,501.65 415.30,501.00 C416.12,500.35 417.05,498.52 417.90,498.80 C418.75,499.08 419.70,500.72 420.40,502.70 C421.10,504.68 421.43,507.77 422.10,510.70 C422.77,513.63 424.02,518.70 424.40,520.30" fill="none" stroke="#158f15" stroke-width="2.3" stroke-dasharray="2.2 2.8 2.2 8.8" stroke-dashoffset="-7.4"/>
<path d="M294.40,521.50 C294.73,522.35 295.70,525.08 296.40,526.60 C297.10,528.12 297.85,530.52 298.60,530.60 C299.35,530.68 300.13,529.10 300.90,527.10 C301.67,525.10 302.43,521.15 303.20,518.60 C303.97,516.05 304.65,513.58 305.50,511.80 C306.35,510.02 307.27,508.37 308.30,507.90 C309.33,507.43 310.38,508.57 311.70,509.00 C313.02,509.43 314.97,510.03 316.20,510.50 C317.43,510.97 318.25,510.92 319.10,511.80 C319.95,512.68 320.55,514.18 321.30,515.80 C322.05,517.42 322.73,519.93 323.60,521.50 C324.47,523.07 325.65,525.30 326.50,525.20 C327.35,525.10 328.05,523.13 328.70,520.90 C329.35,518.67 329.87,515.40 330.40,511.80 C330.93,508.20 331.42,503.08 331.90,499.30 C332.38,495.52 332.78,492.68 333.30,489.10 C333.82,485.52 334.43,480.92 335.00,477.80 C335.57,474.68 336.13,471.92 336.70,470.40 C337.27,468.88 337.75,468.42 338.40,468.70 C339.05,468.98 339.95,470.02 340.60,472.10 C341.25,474.18 341.73,477.80 342.30,481.20 C342.87,484.60 343.43,488.92 344.00,492.50 C344.57,496.08 345.12,499.28 345.70,502.70 C346.28,506.12 346.83,509.97 347.50,513.00 C348.17,516.03 348.85,518.92 349.70,520.90 C350.55,522.88 351.75,524.15 352.60,524.90 C353.45,525.65 353.95,525.60 354.80,525.40 C355.65,525.20 356.78,525.20 357.70,523.70 C358.62,522.20 359.50,519.52 360.30,516.40 C361.10,513.28 361.85,508.78 362.50,505.00 C363.15,501.22 363.63,497.67 364.20,493.70 C364.77,489.73 365.33,484.90 365.90,481.20 C366.47,477.50 366.93,474.05 367.60,471.50 C368.27,468.95 369.13,466.75 369.90,465.90 C370.67,465.05 371.53,465.37 372.20,466.40 C372.87,467.43 373.33,469.45 373.90,472.10 C374.47,474.75 375.03,478.70 375.60,482.30 C376.17,485.90 376.73,489.92 377.30,493.70 C377.87,497.48 378.43,501.60 379.00,505.00 C379.57,508.40 380.03,511.35 380.70,514.10 C381.37,516.85 381.97,519.62 383.00,521.50 C384.03,523.38 385.77,525.12 386.90,525.40 C388.03,525.68 388.95,525.08 389.80,523.20 C390.65,521.32 391.33,517.52 392.00,514.10 C392.67,510.68 393.22,506.87 393.80,502.70 C394.38,498.53 394.93,494.02 395.50,489.10 C396.07,484.18 396.63,478.12 397.20,473.20 C397.77,468.28 398.15,463.38 398.90,459.60 C399.65,455.82 400.85,451.43 401.70,450.50 C402.55,449.57 403.33,451.72 404.00,454.00 C404.67,456.28 405.13,460.23 405.70,464.20 C406.27,468.17 406.83,473.27 407.40,477.80 C407.97,482.33 408.53,487.82 409.10,491.40 C409.67,494.98 410.15,497.42 410.80,499.30 C411.45,501.18 412.25,502.42 413.00,502.70 C413.75,502.98 414.48,501.65 415.30,501.00 C416.12,500.35 417.05,498.52 417.90,498.80 C418.75,499.08 419.70,500.72 420.40,502.70 C421.10,504.68 421.43,507.77 422.10,510.70 C422.77,513.63 424.02,518.70 424.40,520.30" fill="none" stroke="#ff0000" stroke-width="2.3" stroke-dasharray="6.2 4.2 2.0 3.6"/>
<rect x="288.60" y="446.40" width="142.55" height="88.20" fill="none" stroke="#1a1a1a" stroke-width="1.25"/>
<line x1="283.60" y1="450.40" x2="288.60" y2="450.40" stroke="#1a1a1a" stroke-width="1.2"/>
<line x1="283.60" y1="530.60" x2="288.60" y2="530.60" stroke="#1a1a1a" stroke-width="1.2"/>
<line x1="295.07" y1="534.60" x2="295.07" y2="539.60" stroke="#1a1a1a" stroke-width="1.2"/>
<line x1="359.80" y1="534.60" x2="359.80" y2="539.60" stroke="#1a1a1a" stroke-width="1.2"/>
<line x1="424.53" y1="534.60" x2="424.53" y2="539.60" stroke="#1a1a1a" stroke-width="1.2"/>
<text x="277.60" y="454.10" font-size="10.0" text-anchor="end" textLength="20.40" lengthAdjust="spacingAndGlyphs" fill="#1a1a1a" stroke="#1a1a1a" stroke-width="0.15">1.22</text>
<text x="277.60" y="534.30" font-size="10.0" text-anchor="end" textLength="20.40" lengthAdjust="spacingAndGlyphs" fill="#1a1a1a" stroke="#1a1a1a" stroke-width="0.15">0.00</text>
<text x="289.80" y="442.00" font-size="9.8" textLength="19.00" lengthAdjust="spacingAndGlyphs" fill="#1a1a1a" stroke="#1a1a1a" stroke-width="0.15">×10</text>
<text x="310.20" y="438.20" font-size="6.8" textLength="8.30" lengthAdjust="spacingAndGlyphs" fill="#1a1a1a" stroke="#1a1a1a" stroke-width="0.15">−2</text>
<text x="295.07" y="553.00" font-size="10.2" text-anchor="middle" textLength="17.60" lengthAdjust="spacingAndGlyphs" fill="#1a1a1a" stroke="#1a1a1a" stroke-width="0.15">-0.5</text>
<text x="359.80" y="553.00" font-size="10.2" text-anchor="middle" textLength="6.00" lengthAdjust="spacingAndGlyphs" fill="#1a1a1a" stroke="#1a1a1a" stroke-width="0.15">0</text>
<text x="424.53" y="553.00" font-size="10.2" text-anchor="middle" textLength="16.00" lengthAdjust="spacingAndGlyphs" fill="#1a1a1a" stroke="#1a1a1a" stroke-width="0.15">0.5</text>
<text x="359.90" y="564.80" font-size="14" font-family='"Liberation Serif", serif' text-anchor="middle" font-style="italic" fill="#1a1a1a" stroke="#1a1a1a" stroke-width="0.2">a</text>
<line x1="456.50" y1="416.20" x2="655.50" y2="416.20" stroke="#222" stroke-width="1.65" stroke-dasharray="4.42 6.1" stroke-linecap="round"/>
<line x1="655.50" y1="416.60" x2="655.50" y2="569.20" stroke="#222" stroke-width="1.65" stroke-dasharray="4.42 6.1" stroke-linecap="round"/>
<line x1="457.50" y1="569.20" x2="655.50" y2="569.20" stroke="#222" stroke-width="1.65" stroke-dasharray="4.42 6.1" stroke-linecap="round"/>
<line x1="451.90" y1="417.80" x2="451.90" y2="569.20" stroke="#222" stroke-width="1.65" stroke-dasharray="4.42 6.1" stroke-linecap="round"/>
<circle cx="462.60" cy="427.10" r="8.6" fill="#000"/>
<text x="462.60" y="431.35" font-size="12" font-family='"Liberation Serif", serif' text-anchor="middle" fill="#cfcfcf" stroke="#cfcfcf" stroke-width="0.25">III</text>
<text x='555.90' y='432.10' font-size='16' font-family='"Liberation Serif", serif' font-style='italic' fill='#1a1a1a' stroke='#1a1a1a' stroke-width='0.3' textLength='10.0' lengthAdjust='spacingAndGlyphs'>N</text>
<text x='565.70' y='434.50' font-size='12' font-family='"Liberation Serif", serif' font-style='italic' fill='#1a1a1a' stroke='#1a1a1a' stroke-width='0.2'>f</text>
<text x='577.10' y='432.10' font-size='16' font-family='"Liberation Serif", serif' fill='#1a1a1a' textLength='10.80' lengthAdjust='spacingAndGlyphs'>=</text>
<text x="653.30" y="432.10" font-size="16" font-family='"Liberation Serif", serif' text-anchor="end" textLength="61.20" lengthAdjust="spacingAndGlyphs" fill="#1a1a1a">1000000</text>
<path d="M504.20,453.90 C504.48,453.33 505.33,450.30 505.90,450.50 C506.47,450.70 507.12,453.20 507.60,455.10 C508.08,457.00 508.42,459.07 508.80,461.90 C509.18,464.73 509.52,468.32 509.90,472.10 C510.28,475.88 510.72,480.25 511.10,484.60 C511.48,488.95 511.83,493.67 512.20,498.20 C512.57,502.73 512.87,507.63 513.30,511.80 C513.73,515.97 514.28,520.17 514.80,523.20 C515.32,526.23 515.80,529.15 516.40,530.00 C517.00,530.85 517.68,529.82 518.40,528.30 C519.12,526.78 519.93,523.45 520.70,520.90 C521.47,518.35 522.25,514.88 523.00,513.00 C523.75,511.12 524.35,510.45 525.20,509.60 C526.05,508.75 527.25,509.05 528.10,507.90 C528.95,506.75 529.65,505.07 530.30,502.70 C530.95,500.33 531.42,496.90 532.00,493.70 C532.58,490.50 533.22,486.92 533.80,483.50 C534.38,480.08 534.93,475.67 535.50,473.20 C536.07,470.73 536.55,468.88 537.20,468.70 C537.85,468.52 538.75,469.83 539.40,472.10 C540.05,474.37 540.57,478.52 541.10,482.30 C541.63,486.08 542.12,490.45 542.60,494.80 C543.08,499.15 543.53,504.05 544.00,508.40 C544.47,512.75 544.93,517.30 545.40,520.90 C545.87,524.50 546.18,529.43 546.80,530.00 C547.42,530.57 548.43,526.95 549.10,524.30 C549.77,521.65 550.23,518.07 550.80,514.10 C551.37,510.13 551.93,504.67 552.50,500.50 C553.07,496.33 553.60,491.57 554.20,489.10 C554.80,486.63 555.43,485.32 556.10,485.70 C556.77,486.08 557.52,488.75 558.20,491.40 C558.88,494.05 559.48,498.57 560.20,501.60 C560.92,504.63 561.70,509.03 562.50,509.60 C563.30,510.17 564.30,507.65 565.00,505.00 C565.70,502.35 566.13,498.12 566.70,493.70 C567.27,489.28 567.88,483.37 568.40,478.50 C568.92,473.63 569.25,468.22 569.80,464.50 C570.35,460.78 571.02,456.82 571.70,456.20 C572.38,455.58 573.25,458.15 573.90,460.80 C574.55,463.45 575.12,468.13 575.60,472.10 C576.08,476.07 576.42,480.25 576.80,484.60 C577.18,488.95 577.53,493.67 577.90,498.20 C578.27,502.73 578.57,507.83 579.00,511.80 C579.43,515.77 579.92,519.35 580.50,522.00 C581.08,524.65 581.80,527.88 582.50,527.70 C583.20,527.52 583.95,523.55 584.70,520.90 C585.45,518.25 586.23,514.17 587.00,511.80 C587.77,509.43 588.55,507.17 589.30,506.70 C590.05,506.23 590.75,507.87 591.50,509.00 C592.25,510.13 593.03,512.65 593.80,513.50 C594.57,514.35 595.35,515.32 596.10,514.10 C596.85,512.88 597.65,509.60 598.30,506.20 C598.95,502.80 599.43,498.07 600.00,493.70 C600.57,489.33 601.13,483.60 601.70,480.00 C602.27,476.40 602.83,473.88 603.40,472.10 C603.97,470.32 604.53,469.12 605.10,469.30 C605.67,469.48 606.22,471.03 606.80,473.20 C607.38,475.37 608.02,478.88 608.60,482.30 C609.18,485.72 609.73,489.53 610.30,493.70 C610.87,497.87 611.43,503.15 612.00,507.30 C612.57,511.45 613.03,515.77 613.70,518.60 C614.37,521.43 615.25,523.35 616.00,524.30 C616.75,525.25 617.27,524.87 618.20,524.30 C619.13,523.73 620.47,522.03 621.60,520.90 C622.73,519.77 624.05,519.38 625.00,517.50 C625.95,515.62 626.63,513.38 627.30,509.60 C627.97,505.82 628.43,499.73 629.00,494.80 C629.57,489.87 630.13,484.73 630.70,480.00 C631.27,475.27 631.83,470.47 632.40,466.40 C632.97,462.33 633.82,457.40 634.10,455.60" fill="none" stroke="#158f15" stroke-width="2.3" stroke-dasharray="2.2 2.8 2.2 8.8" stroke-dashoffset="-7.4"/>
<path d="M504.20,453.90 C504.48,453.33 505.33,450.30 505.90,450.50 C506.47,450.70 507.12,453.20 507.60,455.10 C508.08,457.00 508.42,459.07 508.80,461.90 C509.18,464.73 509.52,468.32 509.90,472.10 C510.28,475.88 510.72,480.25 511.10,484.60 C511.48,488.95 511.83,493.67 512.20,498.20 C512.57,502.73 512.87,507.63 513.30,511.80 C513.73,515.97 514.28,520.17 514.80,523.20 C515.32,526.23 515.80,529.15 516.40,530.00 C517.00,530.85 517.68,529.82 518.40,528.30 C519.12,526.78 519.93,523.45 520.70,520.90 C521.47,518.35 522.25,514.88 523.00,513.00 C523.75,511.12 524.35,510.45 525.20,509.60 C526.05,508.75 527.25,509.05 528.10,507.90 C528.95,506.75 529.65,505.07 530.30,502.70 C530.95,500.33 531.42,496.90 532.00,493.70 C532.58,490.50 533.22,486.92 533.80,483.50 C534.38,480.08 534.93,475.67 535.50,473.20 C536.07,470.73 536.55,468.88 537.20,468.70 C537.85,468.52 538.75,469.83 539.40,472.10 C540.05,474.37 540.57,478.52 541.10,482.30 C541.63,486.08 542.12,490.45 542.60,494.80 C543.08,499.15 543.53,504.05 544.00,508.40 C544.47,512.75 544.93,517.30 545.40,520.90 C545.87,524.50 546.18,529.43 546.80,530.00 C547.42,530.57 548.43,526.95 549.10,524.30 C549.77,521.65 550.23,518.07 550.80,514.10 C551.37,510.13 551.93,504.67 552.50,500.50 C553.07,496.33 553.60,491.57 554.20,489.10 C554.80,486.63 555.43,485.32 556.10,485.70 C556.77,486.08 557.52,488.75 558.20,491.40 C558.88,494.05 559.48,498.57 560.20,501.60 C560.92,504.63 561.70,509.03 562.50,509.60 C563.30,510.17 564.30,507.65 565.00,505.00 C565.70,502.35 566.13,498.12 566.70,493.70 C567.27,489.28 567.88,483.37 568.40,478.50 C568.92,473.63 569.25,468.22 569.80,464.50 C570.35,460.78 571.02,456.82 571.70,456.20 C572.38,455.58 573.25,458.15 573.90,460.80 C574.55,463.45 575.12,468.13 575.60,472.10 C576.08,476.07 576.42,480.25 576.80,484.60 C577.18,488.95 577.53,493.67 577.90,498.20 C578.27,502.73 578.57,507.83 579.00,511.80 C579.43,515.77 579.92,519.35 580.50,522.00 C581.08,524.65 581.80,527.88 582.50,527.70 C583.20,527.52 583.95,523.55 584.70,520.90 C585.45,518.25 586.23,514.17 587.00,511.80 C587.77,509.43 588.55,507.17 589.30,506.70 C590.05,506.23 590.75,507.87 591.50,509.00 C592.25,510.13 593.03,512.65 593.80,513.50 C594.57,514.35 595.35,515.32 596.10,514.10 C596.85,512.88 597.65,509.60 598.30,506.20 C598.95,502.80 599.43,498.07 600.00,493.70 C600.57,489.33 601.13,483.60 601.70,480.00 C602.27,476.40 602.83,473.88 603.40,472.10 C603.97,470.32 604.53,469.12 605.10,469.30 C605.67,469.48 606.22,471.03 606.80,473.20 C607.38,475.37 608.02,478.88 608.60,482.30 C609.18,485.72 609.73,489.53 610.30,493.70 C610.87,497.87 611.43,503.15 612.00,507.30 C612.57,511.45 613.03,515.77 613.70,518.60 C614.37,521.43 615.25,523.35 616.00,524.30 C616.75,525.25 617.27,524.87 618.20,524.30 C619.13,523.73 620.47,522.03 621.60,520.90 C622.73,519.77 624.05,519.38 625.00,517.50 C625.95,515.62 626.63,513.38 627.30,509.60 C627.97,505.82 628.43,499.73 629.00,494.80 C629.57,489.87 630.13,484.73 630.70,480.00 C631.27,475.27 631.83,470.47 632.40,466.40 C632.97,462.33 633.82,457.40 634.10,455.60" fill="none" stroke="#ff0000" stroke-width="2.3" stroke-dasharray="6.2 4.2 2.0 3.6"/>
<rect x="498.50" y="446.40" width="142.55" height="88.20" fill="none" stroke="#1a1a1a" stroke-width="1.25"/>
<line x1="493.50" y1="450.40" x2="498.50" y2="450.40" stroke="#1a1a1a" stroke-width="1.2"/>
<line x1="493.50" y1="530.60" x2="498.50" y2="530.60" stroke="#1a1a1a" stroke-width="1.2"/>
<line x1="504.97" y1="534.60" x2="504.97" y2="539.60" stroke="#1a1a1a" stroke-width="1.2"/>
<line x1="569.70" y1="534.60" x2="569.70" y2="539.60" stroke="#1a1a1a" stroke-width="1.2"/>
<line x1="634.43" y1="534.60" x2="634.43" y2="539.60" stroke="#1a1a1a" stroke-width="1.2"/>
<text x="487.50" y="454.10" font-size="10.0" text-anchor="end" textLength="20.40" lengthAdjust="spacingAndGlyphs" fill="#1a1a1a" stroke="#1a1a1a" stroke-width="0.15">9.75</text>
<text x="487.50" y="534.30" font-size="10.0" text-anchor="end" textLength="20.40" lengthAdjust="spacingAndGlyphs" fill="#1a1a1a" stroke="#1a1a1a" stroke-width="0.15">0.02</text>
<text x="499.70" y="442.00" font-size="9.8" textLength="19.00" lengthAdjust="spacingAndGlyphs" fill="#1a1a1a" stroke="#1a1a1a" stroke-width="0.15">×10</text>
<text x="520.10" y="438.20" font-size="6.8" textLength="8.30" lengthAdjust="spacingAndGlyphs" fill="#1a1a1a" stroke="#1a1a1a" stroke-width="0.15">−3</text>
<text x="504.97" y="553.00" font-size="10.2" text-anchor="middle" textLength="17.60" lengthAdjust="spacingAndGlyphs" fill="#1a1a1a" stroke="#1a1a1a" stroke-width="0.15">-0.5</text>
<text x="569.70" y="553.00" font-size="10.2" text-anchor="middle" textLength="6.00" lengthAdjust="spacingAndGlyphs" fill="#1a1a1a" stroke="#1a1a1a" stroke-width="0.15">0</text>
<text x="634.43" y="553.00" font-size="10.2" text-anchor="middle" textLength="16.00" lengthAdjust="spacingAndGlyphs" fill="#1a1a1a" stroke="#1a1a1a" stroke-width="0.15">0.5</text>
<text x="569.80" y="564.80" font-size="14" font-family='"Liberation Serif", serif' text-anchor="middle" font-style="italic" fill="#1a1a1a" stroke="#1a1a1a" stroke-width="0.2">a</text>
<line x1="36.40" y1="637.70" x2="235.40" y2="637.70" stroke="#222" stroke-width="1.65" stroke-dasharray="4.42 6.1" stroke-linecap="round"/>
<line x1="235.40" y1="638.10" x2="235.40" y2="790.70" stroke="#222" stroke-width="1.65" stroke-dasharray="4.42 6.1" stroke-linecap="round"/>
<line x1="37.40" y1="790.70" x2="235.40" y2="790.70" stroke="#222" stroke-width="1.65" stroke-dasharray="4.42 6.1" stroke-linecap="round"/>
<line x1="31.80" y1="639.30" x2="31.80" y2="790.70" stroke="#222" stroke-width="1.65" stroke-dasharray="4.42 6.1" stroke-linecap="round"/>
<circle cx="42.80" cy="648.60" r="8.6" fill="#000"/>
<text x="42.80" y="652.85" font-size="12" font-family='"Liberation Serif", serif' text-anchor="middle" fill="#cfcfcf" stroke="#cfcfcf" stroke-width="0.25">IV</text>
<text x='154.40' y='653.60' font-size='16' font-family='"Liberation Serif", serif' font-style='italic' fill='#1a1a1a' stroke='#1a1a1a' stroke-width='0.3' textLength='10.0' lengthAdjust='spacingAndGlyphs'>N</text>
<text x='164.20' y='656.00' font-size='12' font-family='"Liberation Serif", serif' font-style='italic' fill='#1a1a1a' stroke='#1a1a1a' stroke-width='0.2'>f</text>
<text x='175.60' y='653.60' font-size='16' font-family='"Liberation Serif", serif' fill='#1a1a1a' textLength='10.80' lengthAdjust='spacingAndGlyphs'>=</text>
<text x="234.80" y="653.60" font-size="16" font-family='"Liberation Serif", serif' text-anchor="end" textLength="43.00" lengthAdjust="spacingAndGlyphs" fill="#1a1a1a">10000</text>
<path d="M83.90,685.20 C84.15,683.87 84.87,679.20 85.40,677.20 C85.93,675.20 86.53,674.10 87.10,673.20 C87.67,672.30 88.23,671.32 88.80,671.80 C89.37,672.28 89.93,673.87 90.50,676.10 C91.07,678.33 91.63,681.62 92.20,685.20 C92.77,688.78 93.38,693.63 93.90,697.60 C94.42,701.57 94.83,705.40 95.30,709.00 C95.77,712.60 96.18,715.98 96.70,719.20 C97.22,722.42 97.83,725.47 98.40,728.30 C98.97,731.13 99.43,733.55 100.10,736.20 C100.77,738.85 101.55,741.92 102.40,744.20 C103.25,746.48 104.17,748.58 105.20,749.90 C106.23,751.22 107.37,752.02 108.60,752.10 C109.83,752.18 111.17,750.97 112.60,750.40 C114.03,749.83 115.78,748.70 117.20,748.70 C118.62,748.70 119.88,749.98 121.10,750.40 C122.32,750.82 123.37,751.38 124.50,751.20 C125.63,751.02 126.77,750.10 127.90,749.30 C129.03,748.50 130.17,747.20 131.30,746.40 C132.43,745.60 133.55,744.40 134.70,744.50 C135.85,744.60 137.05,746.02 138.20,747.00 C139.35,747.98 140.38,749.52 141.60,750.40 C142.82,751.28 144.18,752.10 145.50,752.30 C146.82,752.50 148.25,751.88 149.50,751.60 C150.75,751.32 151.72,751.18 153.00,750.60 C154.28,750.02 155.73,748.98 157.20,748.10 C158.67,747.22 160.28,746.43 161.80,745.30 C163.32,744.17 164.80,742.25 166.30,741.30 C167.80,740.35 169.28,739.68 170.80,739.60 C172.32,739.52 173.88,740.32 175.40,740.80 C176.92,741.28 178.48,742.78 179.90,742.50 C181.32,742.22 182.77,740.52 183.90,739.10 C185.03,737.68 185.85,735.98 186.70,734.00 C187.55,732.02 188.23,729.20 189.00,727.20 C189.77,725.20 190.63,723.05 191.30,722.00 C191.97,720.95 192.35,720.62 193.00,720.90 C193.65,721.18 194.45,722.08 195.20,723.70 C195.95,725.32 196.73,727.75 197.50,730.60 C198.27,733.45 199.05,737.68 199.80,740.80 C200.55,743.92 201.35,747.45 202.00,749.30 C202.65,751.15 203.03,752.18 203.70,751.90 C204.37,751.62 205.33,749.83 206.00,747.60 C206.67,745.37 207.22,742.10 207.70,738.50 C208.18,734.90 208.52,729.97 208.90,726.00 C209.28,722.03 209.57,718.87 210.00,714.70 C210.43,710.53 211.07,704.60 211.50,701.00 C211.93,697.40 212.20,695.55 212.60,693.10 C213.00,690.65 213.68,687.43 213.90,686.30" fill="none" stroke="#158f15" stroke-width="2.3" stroke-dasharray="2.2 2.8 2.2 8.8" stroke-dashoffset="-7.4"/>
<path d="M83.90,685.20 C84.15,683.87 84.87,679.20 85.40,677.20 C85.93,675.20 86.53,674.10 87.10,673.20 C87.67,672.30 88.23,671.32 88.80,671.80 C89.37,672.28 89.93,673.87 90.50,676.10 C91.07,678.33 91.63,681.62 92.20,685.20 C92.77,688.78 93.38,693.63 93.90,697.60 C94.42,701.57 94.83,705.40 95.30,709.00 C95.77,712.60 96.18,715.98 96.70,719.20 C97.22,722.42 97.83,725.47 98.40,728.30 C98.97,731.13 99.43,733.55 100.10,736.20 C100.77,738.85 101.55,741.92 102.40,744.20 C103.25,746.48 104.17,748.58 105.20,749.90 C106.23,751.22 107.37,752.02 108.60,752.10 C109.83,752.18 111.17,750.97 112.60,750.40 C114.03,749.83 115.78,748.70 117.20,748.70 C118.62,748.70 119.88,749.98 121.10,750.40 C122.32,750.82 123.37,751.38 124.50,751.20 C125.63,751.02 126.77,750.10 127.90,749.30 C129.03,748.50 130.17,747.20 131.30,746.40 C132.43,745.60 133.55,744.40 134.70,744.50 C135.85,744.60 137.05,746.02 138.20,747.00 C139.35,747.98 140.38,749.52 141.60,750.40 C142.82,751.28 144.18,752.10 145.50,752.30 C146.82,752.50 148.25,751.88 149.50,751.60 C150.75,751.32 151.72,751.18 153.00,750.60 C154.28,750.02 155.73,748.98 157.20,748.10 C158.67,747.22 160.28,746.43 161.80,745.30 C163.32,744.17 164.80,742.25 166.30,741.30 C167.80,740.35 169.28,739.68 170.80,739.60 C172.32,739.52 173.88,740.32 175.40,740.80 C176.92,741.28 178.48,742.78 179.90,742.50 C181.32,742.22 182.77,740.52 183.90,739.10 C185.03,737.68 185.85,735.98 186.70,734.00 C187.55,732.02 188.23,729.20 189.00,727.20 C189.77,725.20 190.63,723.05 191.30,722.00 C191.97,720.95 192.35,720.62 193.00,720.90 C193.65,721.18 194.45,722.08 195.20,723.70 C195.95,725.32 196.73,727.75 197.50,730.60 C198.27,733.45 199.05,737.68 199.80,740.80 C200.55,743.92 201.35,747.45 202.00,749.30 C202.65,751.15 203.03,752.18 203.70,751.90 C204.37,751.62 205.33,749.83 206.00,747.60 C206.67,745.37 207.22,742.10 207.70,738.50 C208.18,734.90 208.52,729.97 208.90,726.00 C209.28,722.03 209.57,718.87 210.00,714.70 C210.43,710.53 211.07,704.60 211.50,701.00 C211.93,697.40 212.20,695.55 212.60,693.10 C213.00,690.65 213.68,687.43 213.90,686.30" fill="none" stroke="#ff0000" stroke-width="2.3" stroke-dasharray="6.2 4.2 2.0 3.6"/>
<rect x="78.10" y="667.90" width="142.55" height="88.20" fill="none" stroke="#1a1a1a" stroke-width="1.25"/>
<line x1="73.10" y1="671.90" x2="78.10" y2="671.90" stroke="#1a1a1a" stroke-width="1.2"/>
<line x1="73.10" y1="752.10" x2="78.10" y2="752.10" stroke="#1a1a1a" stroke-width="1.2"/>
<line x1="84.57" y1="756.10" x2="84.57" y2="761.10" stroke="#1a1a1a" stroke-width="1.2"/>
<line x1="149.30" y1="756.10" x2="149.30" y2="761.10" stroke="#1a1a1a" stroke-width="1.2"/>
<line x1="214.03" y1="756.10" x2="214.03" y2="761.10" stroke="#1a1a1a" stroke-width="1.2"/>
<text x="67.10" y="675.60" font-size="10.0" text-anchor="end" textLength="20.40" lengthAdjust="spacingAndGlyphs" fill="#1a1a1a" stroke="#1a1a1a" stroke-width="0.15">5.02</text>
<text x="67.10" y="755.80" font-size="10.0" text-anchor="end" textLength="20.40" lengthAdjust="spacingAndGlyphs" fill="#1a1a1a" stroke="#1a1a1a" stroke-width="0.15">0.00</text>
<text x="79.30" y="663.50" font-size="9.8" textLength="19.00" lengthAdjust="spacingAndGlyphs" fill="#1a1a1a" stroke="#1a1a1a" stroke-width="0.15">×10</text>
<text x="99.70" y="659.70" font-size="6.8" textLength="8.30" lengthAdjust="spacingAndGlyphs" fill="#1a1a1a" stroke="#1a1a1a" stroke-width="0.15">−1</text>
<text x="84.57" y="774.50" font-size="10.2" text-anchor="middle" textLength="17.60" lengthAdjust="spacingAndGlyphs" fill="#1a1a1a" stroke="#1a1a1a" stroke-width="0.15">-0.5</text>
<text x="149.30" y="774.50" font-size="10.2" text-anchor="middle" textLength="6.00" lengthAdjust="spacingAndGlyphs" fill="#1a1a1a" stroke="#1a1a1a" stroke-width="0.15">0</text>
<text x="214.03" y="774.50" font-size="10.2" text-anchor="middle" textLength="16.00" lengthAdjust="spacingAndGlyphs" fill="#1a1a1a" stroke="#1a1a1a" stroke-width="0.15">0.5</text>
<text x="149.40" y="786.30" font-size="14" font-family='"Liberation Serif", serif' text-anchor="middle" font-style="italic" fill="#1a1a1a" stroke="#1a1a1a" stroke-width="0.2">a</text>
<line x1="246.90" y1="637.70" x2="445.80" y2="637.70" stroke="#222" stroke-width="1.65" stroke-dasharray="4.42 6.1" stroke-linecap="round"/>
<line x1="445.80" y1="638.10" x2="445.80" y2="790.70" stroke="#222" stroke-width="1.65" stroke-dasharray="4.42 6.1" stroke-linecap="round"/>
<line x1="247.90" y1="790.70" x2="445.80" y2="790.70" stroke="#222" stroke-width="1.65" stroke-dasharray="4.42 6.1" stroke-linecap="round"/>
<line x1="242.30" y1="639.30" x2="242.30" y2="790.70" stroke="#222" stroke-width="1.65" stroke-dasharray="4.42 6.1" stroke-linecap="round"/>
<circle cx="253.50" cy="648.70" r="8.6" fill="#000"/>
<text x="253.50" y="652.95" font-size="12" font-family='"Liberation Serif", serif' text-anchor="middle" fill="#cfcfcf" stroke="#cfcfcf" stroke-width="0.25">V</text>
<text x='363.40' y='653.60' font-size='16' font-family='"Liberation Serif", serif' font-style='italic' fill='#1a1a1a' stroke='#1a1a1a' stroke-width='0.3' textLength='10.0' lengthAdjust='spacingAndGlyphs'>N</text>
<text x='373.20' y='656.00' font-size='12' font-family='"Liberation Serif", serif' font-style='italic' fill='#1a1a1a' stroke='#1a1a1a' stroke-width='0.2'>f</text>
<text x='384.60' y='653.60' font-size='16' font-family='"Liberation Serif", serif' fill='#1a1a1a' textLength='10.80' lengthAdjust='spacingAndGlyphs'>=</text>
<text x="444.60" y="653.60" font-size="16" font-family='"Liberation Serif", serif' text-anchor="end" textLength="44.30" lengthAdjust="spacingAndGlyphs" fill="#1a1a1a">99856</text>
<path d="M295.20,672.10 C295.48,673.13 296.42,675.93 296.90,678.30 C297.38,680.67 297.72,683.27 298.10,686.30 C298.48,689.33 298.87,693.10 299.20,696.50 C299.53,699.90 299.75,703.10 300.10,706.70 C300.45,710.30 300.92,714.50 301.30,718.10 C301.68,721.70 301.98,724.90 302.40,728.30 C302.82,731.70 303.28,735.48 303.80,738.50 C304.32,741.52 304.98,744.60 305.50,746.40 C306.02,748.20 306.33,749.48 306.90,749.30 C307.47,749.12 308.20,747.28 308.90,745.30 C309.60,743.32 310.35,739.67 311.10,737.40 C311.85,735.13 312.70,732.93 313.40,731.70 C314.10,730.47 314.60,729.90 315.30,730.00 C316.00,730.10 316.83,730.98 317.60,732.30 C318.37,733.62 319.08,735.73 319.90,737.90 C320.72,740.07 321.60,743.30 322.50,745.30 C323.40,747.30 324.27,748.92 325.30,749.90 C326.33,750.88 327.37,751.12 328.70,751.20 C330.03,751.28 331.78,751.00 333.30,750.40 C334.82,749.80 336.30,748.48 337.80,747.60 C339.30,746.72 340.88,745.20 342.30,745.10 C343.72,745.00 344.97,746.02 346.30,747.00 C347.63,747.98 349.07,750.12 350.30,751.00 C351.53,751.88 352.47,752.40 353.70,752.30 C354.93,752.20 356.23,751.15 357.70,750.40 C359.17,749.65 360.93,748.93 362.50,747.80 C364.07,746.67 365.87,744.87 367.10,743.60 C368.33,742.33 368.95,741.05 369.90,740.20 C370.85,739.35 371.75,738.22 372.80,738.50 C373.85,738.78 375.07,740.58 376.20,741.90 C377.33,743.22 378.57,745.30 379.60,746.40 C380.63,747.50 381.47,748.68 382.40,748.50 C383.33,748.32 384.25,746.58 385.20,745.30 C386.15,744.02 387.05,742.03 388.10,740.80 C389.15,739.57 390.47,738.28 391.50,737.90 C392.53,737.52 393.27,738.22 394.30,738.50 C395.33,738.78 396.57,739.78 397.70,739.60 C398.83,739.42 400.05,738.05 401.10,737.40 C402.15,736.75 403.05,735.42 404.00,735.70 C404.95,735.98 405.95,737.68 406.80,739.10 C407.65,740.52 408.35,742.40 409.10,744.20 C409.85,746.00 410.65,748.67 411.30,749.90 C411.95,751.13 412.33,751.98 413.00,751.60 C413.67,751.22 414.73,749.60 415.30,747.60 C415.87,745.60 416.02,743.00 416.40,739.60 C416.78,736.20 417.25,730.98 417.60,727.20 C417.95,723.42 418.22,720.50 418.50,716.90 C418.78,713.30 419.02,709.18 419.30,705.60 C419.58,702.02 419.87,699.00 420.20,695.40 C420.53,691.80 420.88,687.22 421.30,684.00 C421.72,680.78 422.23,678.08 422.70,676.10 C423.17,674.12 423.87,672.77 424.10,672.10" fill="none" stroke="#158f15" stroke-width="2.3" stroke-dasharray="2.2 2.8 2.2 8.8" stroke-dashoffset="-7.4"/>
<path d="M295.20,672.10 C295.48,673.13 296.42,675.93 296.90,678.30 C297.38,680.67 297.72,683.27 298.10,686.30 C298.48,689.33 298.87,693.10 299.20,696.50 C299.53,699.90 299.75,703.10 300.10,706.70 C300.45,710.30 300.92,714.50 301.30,718.10 C301.68,721.70 301.98,724.90 302.40,728.30 C302.82,731.70 303.28,735.48 303.80,738.50 C304.32,741.52 304.98,744.60 305.50,746.40 C306.02,748.20 306.33,749.48 306.90,749.30 C307.47,749.12 308.20,747.28 308.90,745.30 C309.60,743.32 310.35,739.67 311.10,737.40 C311.85,735.13 312.70,732.93 313.40,731.70 C314.10,730.47 314.60,729.90 315.30,730.00 C316.00,730.10 316.83,730.98 317.60,732.30 C318.37,733.62 319.08,735.73 319.90,737.90 C320.72,740.07 321.60,743.30 322.50,745.30 C323.40,747.30 324.27,748.92 325.30,749.90 C326.33,750.88 327.37,751.12 328.70,751.20 C330.03,751.28 331.78,751.00 333.30,750.40 C334.82,749.80 336.30,748.48 337.80,747.60 C339.30,746.72 340.88,745.20 342.30,745.10 C343.72,745.00 344.97,746.02 346.30,747.00 C347.63,747.98 349.07,750.12 350.30,751.00 C351.53,751.88 352.47,752.40 353.70,752.30 C354.93,752.20 356.23,751.15 357.70,750.40 C359.17,749.65 360.93,748.93 362.50,747.80 C364.07,746.67 365.87,744.87 367.10,743.60 C368.33,742.33 368.95,741.05 369.90,740.20 C370.85,739.35 371.75,738.22 372.80,738.50 C373.85,738.78 375.07,740.58 376.20,741.90 C377.33,743.22 378.57,745.30 379.60,746.40 C380.63,747.50 381.47,748.68 382.40,748.50 C383.33,748.32 384.25,746.58 385.20,745.30 C386.15,744.02 387.05,742.03 388.10,740.80 C389.15,739.57 390.47,738.28 391.50,737.90 C392.53,737.52 393.27,738.22 394.30,738.50 C395.33,738.78 396.57,739.78 397.70,739.60 C398.83,739.42 400.05,738.05 401.10,737.40 C402.15,736.75 403.05,735.42 404.00,735.70 C404.95,735.98 405.95,737.68 406.80,739.10 C407.65,740.52 408.35,742.40 409.10,744.20 C409.85,746.00 410.65,748.67 411.30,749.90 C411.95,751.13 412.33,751.98 413.00,751.60 C413.67,751.22 414.73,749.60 415.30,747.60 C415.87,745.60 416.02,743.00 416.40,739.60 C416.78,736.20 417.25,730.98 417.60,727.20 C417.95,723.42 418.22,720.50 418.50,716.90 C418.78,713.30 419.02,709.18 419.30,705.60 C419.58,702.02 419.87,699.00 420.20,695.40 C420.53,691.80 420.88,687.22 421.30,684.00 C421.72,680.78 422.23,678.08 422.70,676.10 C423.17,674.12 423.87,672.77 424.10,672.10" fill="none" stroke="#ff0000" stroke-width="2.3" stroke-dasharray="6.2 4.2 2.0 3.6"/>
<rect x="288.60" y="667.90" width="142.55" height="88.20" fill="none" stroke="#1a1a1a" stroke-width="1.25"/>
<line x1="283.60" y1="671.90" x2="288.60" y2="671.90" stroke="#1a1a1a" stroke-width="1.2"/>
<line x1="283.60" y1="752.10" x2="288.60" y2="752.10" stroke="#1a1a1a" stroke-width="1.2"/>
<line x1="295.07" y1="756.10" x2="295.07" y2="761.10" stroke="#1a1a1a" stroke-width="1.2"/>
<line x1="359.80" y1="756.10" x2="359.80" y2="761.10" stroke="#1a1a1a" stroke-width="1.2"/>
<line x1="424.53" y1="756.10" x2="424.53" y2="761.10" stroke="#1a1a1a" stroke-width="1.2"/>
<text x="277.60" y="675.60" font-size="10.0" text-anchor="end" textLength="20.40" lengthAdjust="spacingAndGlyphs" fill="#1a1a1a" stroke="#1a1a1a" stroke-width="0.15">6.15</text>
<text x="277.60" y="755.80" font-size="10.0" text-anchor="end" textLength="20.40" lengthAdjust="spacingAndGlyphs" fill="#1a1a1a" stroke="#1a1a1a" stroke-width="0.15">0.04</text>
<text x="289.80" y="663.50" font-size="9.8" textLength="19.00" lengthAdjust="spacingAndGlyphs" fill="#1a1a1a" stroke="#1a1a1a" stroke-width="0.15">×10</text>
<text x="310.20" y="659.70" font-size="6.8" textLength="8.30" lengthAdjust="spacingAndGlyphs" fill="#1a1a1a" stroke="#1a1a1a" stroke-width="0.15">−1</text>
<text x="295.07" y="774.50" font-size="10.2" text-anchor="middle" textLength="17.60" lengthAdjust="spacingAndGlyphs" fill="#1a1a1a" stroke="#1a1a1a" stroke-width="0.15">-0.5</text>
<text x="359.80" y="774.50" font-size="10.2" text-anchor="middle" textLength="6.00" lengthAdjust="spacingAndGlyphs" fill="#1a1a1a" stroke="#1a1a1a" stroke-width="0.15">0</text>
<text x="424.53" y="774.50" font-size="10.2" text-anchor="middle" textLength="16.00" lengthAdjust="spacingAndGlyphs" fill="#1a1a1a" stroke="#1a1a1a" stroke-width="0.15">0.5</text>
<text x="359.90" y="786.30" font-size="14" font-family='"Liberation Serif", serif' text-anchor="middle" font-style="italic" fill="#1a1a1a" stroke="#1a1a1a" stroke-width="0.2">a</text>
<line x1="456.50" y1="637.70" x2="655.50" y2="637.70" stroke="#222" stroke-width="1.65" stroke-dasharray="4.42 6.1" stroke-linecap="round"/>
<line x1="655.50" y1="638.10" x2="655.50" y2="790.70" stroke="#222" stroke-width="1.65" stroke-dasharray="4.42 6.1" stroke-linecap="round"/>
<line x1="457.50" y1="790.70" x2="655.50" y2="790.70" stroke="#222" stroke-width="1.65" stroke-dasharray="4.42 6.1" stroke-linecap="round"/>
<line x1="451.90" y1="639.30" x2="451.90" y2="790.70" stroke="#222" stroke-width="1.65" stroke-dasharray="4.42 6.1" stroke-linecap="round"/>
<circle cx="462.55" cy="648.30" r="8.6" fill="#000"/>
<text x="462.55" y="652.55" font-size="12" font-family='"Liberation Serif", serif' text-anchor="middle" fill="#cfcfcf" stroke="#cfcfcf" stroke-width="0.25">VI</text>
<text x='555.90' y='653.60' font-size='16' font-family='"Liberation Serif", serif' font-style='italic' fill='#1a1a1a' stroke='#1a1a1a' stroke-width='0.3' textLength='10.0' lengthAdjust='spacingAndGlyphs'>N</text>
<text x='565.70' y='656.00' font-size='12' font-family='"Liberation Serif", serif' font-style='italic' fill='#1a1a1a' stroke='#1a1a1a' stroke-width='0.2'>f</text>
<text x='577.10' y='653.60' font-size='16' font-family='"Liberation Serif", serif' fill='#1a1a1a' textLength='10.80' lengthAdjust='spacingAndGlyphs'>=</text>
<text x="653.30" y="653.60" font-size="16" font-family='"Liberation Serif", serif' text-anchor="end" textLength="61.20" lengthAdjust="spacingAndGlyphs" fill="#1a1a1a">1000000</text>
<path d="M504.20,679.50 C504.40,680.82 505.02,684.57 505.40,687.40 C505.78,690.23 506.13,693.28 506.50,696.50 C506.87,699.72 507.22,703.30 507.60,706.70 C507.98,710.10 508.42,713.48 508.80,716.90 C509.18,720.32 509.52,723.98 509.90,727.20 C510.28,730.42 510.67,733.18 511.10,736.20 C511.53,739.22 511.93,743.12 512.50,745.30 C513.07,747.48 513.85,748.35 514.50,749.30 C515.15,750.25 515.65,751.48 516.40,751.00 C517.15,750.52 518.18,747.63 519.00,746.40 C519.82,745.17 520.55,744.20 521.30,743.60 C522.05,743.00 522.57,742.52 523.50,742.80 C524.43,743.08 525.85,744.47 526.90,745.30 C527.95,746.13 528.85,747.23 529.80,747.80 C530.75,748.37 531.65,748.93 532.60,748.70 C533.55,748.47 534.55,747.72 535.50,746.40 C536.45,745.08 537.45,743.07 538.30,740.80 C539.15,738.53 539.85,735.65 540.60,732.80 C541.35,729.95 542.05,726.53 542.80,723.70 C543.55,720.87 544.25,717.97 545.10,715.80 C545.95,713.63 546.95,711.08 547.90,710.70 C548.85,710.32 549.95,712.08 550.80,713.50 C551.65,714.92 552.15,717.12 553.00,719.20 C553.85,721.28 554.85,723.73 555.90,726.00 C556.95,728.27 558.17,730.72 559.30,732.80 C560.43,734.88 561.67,736.42 562.70,738.50 C563.73,740.58 564.65,743.32 565.50,745.30 C566.35,747.28 567.05,749.30 567.80,750.40 C568.55,751.50 569.27,752.57 570.00,751.90 C570.73,751.23 571.55,748.82 572.20,746.40 C572.85,743.98 573.33,740.80 573.90,737.40 C574.47,734.00 575.03,730.17 575.60,726.00 C576.17,721.83 576.73,716.18 577.30,712.40 C577.87,708.62 578.42,705.28 579.00,703.30 C579.58,701.32 580.13,700.12 580.80,700.50 C581.47,700.88 582.35,703.23 583.00,705.60 C583.65,707.97 584.13,711.10 584.70,714.70 C585.27,718.30 585.83,723.23 586.40,727.20 C586.97,731.17 587.43,735.10 588.10,738.50 C588.77,741.90 589.63,746.65 590.40,747.60 C591.17,748.55 591.95,746.67 592.70,744.20 C593.45,741.73 594.25,736.78 594.90,732.80 C595.55,728.82 596.03,723.52 596.60,720.30 C597.17,717.08 597.63,715.00 598.30,713.50 C598.97,712.00 599.83,710.92 600.60,711.30 C601.37,711.68 602.15,713.15 602.90,715.80 C603.65,718.45 604.35,723.60 605.10,727.20 C605.85,730.80 606.63,734.38 607.40,737.40 C608.17,740.42 608.85,743.13 609.70,745.30 C610.55,747.47 611.47,749.42 612.50,750.40 C613.53,751.38 614.85,751.67 615.90,751.20 C616.95,750.73 617.95,749.53 618.80,747.60 C619.65,745.67 620.35,742.82 621.00,739.60 C621.65,736.38 622.13,732.45 622.70,728.30 C623.27,724.15 623.83,719.25 624.40,714.70 C624.97,710.15 625.53,705.55 626.10,701.00 C626.67,696.45 627.23,691.37 627.80,687.40 C628.37,683.43 628.87,679.75 629.50,677.20 C630.13,674.65 630.93,672.48 631.60,672.10 C632.27,671.72 633.00,673.87 633.50,674.90 C634.00,675.93 634.42,677.73 634.60,678.30" fill="none" stroke="#158f15" stroke-width="2.3" stroke-dasharray="2.2 2.8 2.2 8.8" stroke-dashoffset="-7.4"/>
<path d="M504.20,679.50 C504.40,680.82 505.02,684.57 505.40,687.40 C505.78,690.23 506.13,693.28 506.50,696.50 C506.87,699.72 507.22,703.30 507.60,706.70 C507.98,710.10 508.42,713.48 508.80,716.90 C509.18,720.32 509.52,723.98 509.90,727.20 C510.28,730.42 510.67,733.18 511.10,736.20 C511.53,739.22 511.93,743.12 512.50,745.30 C513.07,747.48 513.85,748.35 514.50,749.30 C515.15,750.25 515.65,751.48 516.40,751.00 C517.15,750.52 518.18,747.63 519.00,746.40 C519.82,745.17 520.55,744.20 521.30,743.60 C522.05,743.00 522.57,742.52 523.50,742.80 C524.43,743.08 525.85,744.47 526.90,745.30 C527.95,746.13 528.85,747.23 529.80,747.80 C530.75,748.37 531.65,748.93 532.60,748.70 C533.55,748.47 534.55,747.72 535.50,746.40 C536.45,745.08 537.45,743.07 538.30,740.80 C539.15,738.53 539.85,735.65 540.60,732.80 C541.35,729.95 542.05,726.53 542.80,723.70 C543.55,720.87 544.25,717.97 545.10,715.80 C545.95,713.63 546.95,711.08 547.90,710.70 C548.85,710.32 549.95,712.08 550.80,713.50 C551.65,714.92 552.15,717.12 553.00,719.20 C553.85,721.28 554.85,723.73 555.90,726.00 C556.95,728.27 558.17,730.72 559.30,732.80 C560.43,734.88 561.67,736.42 562.70,738.50 C563.73,740.58 564.65,743.32 565.50,745.30 C566.35,747.28 567.05,749.30 567.80,750.40 C568.55,751.50 569.27,752.57 570.00,751.90 C570.73,751.23 571.55,748.82 572.20,746.40 C572.85,743.98 573.33,740.80 573.90,737.40 C574.47,734.00 575.03,730.17 575.60,726.00 C576.17,721.83 576.73,716.18 577.30,712.40 C577.87,708.62 578.42,705.28 579.00,703.30 C579.58,701.32 580.13,700.12 580.80,700.50 C581.47,700.88 582.35,703.23 583.00,705.60 C583.65,707.97 584.13,711.10 584.70,714.70 C585.27,718.30 585.83,723.23 586.40,727.20 C586.97,731.17 587.43,735.10 588.10,738.50 C588.77,741.90 589.63,746.65 590.40,747.60 C591.17,748.55 591.95,746.67 592.70,744.20 C593.45,741.73 594.25,736.78 594.90,732.80 C595.55,728.82 596.03,723.52 596.60,720.30 C597.17,717.08 597.63,715.00 598.30,713.50 C598.97,712.00 599.83,710.92 600.60,711.30 C601.37,711.68 602.15,713.15 602.90,715.80 C603.65,718.45 604.35,723.60 605.10,727.20 C605.85,730.80 606.63,734.38 607.40,737.40 C608.17,740.42 608.85,743.13 609.70,745.30 C610.55,747.47 611.47,749.42 612.50,750.40 C613.53,751.38 614.85,751.67 615.90,751.20 C616.95,750.73 617.95,749.53 618.80,747.60 C619.65,745.67 620.35,742.82 621.00,739.60 C621.65,736.38 622.13,732.45 622.70,728.30 C623.27,724.15 623.83,719.25 624.40,714.70 C624.97,710.15 625.53,705.55 626.10,701.00 C626.67,696.45 627.23,691.37 627.80,687.40 C628.37,683.43 628.87,679.75 629.50,677.20 C630.13,674.65 630.93,672.48 631.60,672.10 C632.27,671.72 633.00,673.87 633.50,674.90 C634.00,675.93 634.42,677.73 634.60,678.30" fill="none" stroke="#ff0000" stroke-width="2.3" stroke-dasharray="6.2 4.2 2.0 3.6"/>
<rect x="498.50" y="667.90" width="142.55" height="88.20" fill="none" stroke="#1a1a1a" stroke-width="1.25"/>
<line x1="493.50" y1="671.90" x2="498.50" y2="671.90" stroke="#1a1a1a" stroke-width="1.2"/>
<line x1="493.50" y1="752.10" x2="498.50" y2="752.10" stroke="#1a1a1a" stroke-width="1.2"/>
<line x1="504.97" y1="756.10" x2="504.97" y2="761.10" stroke="#1a1a1a" stroke-width="1.2"/>
<line x1="569.70" y1="756.10" x2="569.70" y2="761.10" stroke="#1a1a1a" stroke-width="1.2"/>
<line x1="634.43" y1="756.10" x2="634.43" y2="761.10" stroke="#1a1a1a" stroke-width="1.2"/>
<text x="487.50" y="675.60" font-size="10.0" text-anchor="end" textLength="20.40" lengthAdjust="spacingAndGlyphs" fill="#1a1a1a" stroke="#1a1a1a" stroke-width="0.15">3.72</text>
<text x="487.50" y="755.80" font-size="10.0" text-anchor="end" textLength="20.40" lengthAdjust="spacingAndGlyphs" fill="#1a1a1a" stroke="#1a1a1a" stroke-width="0.15">0.04</text>
<text x="499.70" y="663.50" font-size="9.8" textLength="19.00" lengthAdjust="spacingAndGlyphs" fill="#1a1a1a" stroke="#1a1a1a" stroke-width="0.15">×10</text>
<text x="520.10" y="659.70" font-size="6.8" textLength="8.30" lengthAdjust="spacingAndGlyphs" fill="#1a1a1a" stroke="#1a1a1a" stroke-width="0.15">−1</text>
<text x="504.97" y="774.50" font-size="10.2" text-anchor="middle" textLength="17.60" lengthAdjust="spacingAndGlyphs" fill="#1a1a1a" stroke="#1a1a1a" stroke-width="0.15">-0.5</text>
<text x="569.70" y="774.50" font-size="10.2" text-anchor="middle" textLength="6.00" lengthAdjust="spacingAndGlyphs" fill="#1a1a1a" stroke="#1a1a1a" stroke-width="0.15">0</text>
<text x="634.43" y="774.50" font-size="10.2" text-anchor="middle" textLength="16.00" lengthAdjust="spacingAndGlyphs" fill="#1a1a1a" stroke="#1a1a1a" stroke-width="0.15">0.5</text>
<text x="569.80" y="786.30" font-size="14" font-family='"Liberation Serif", serif' text-anchor="middle" font-style="italic" fill="#1a1a1a" stroke="#1a1a1a" stroke-width="0.2">a</text>
</svg>
</body></html>
